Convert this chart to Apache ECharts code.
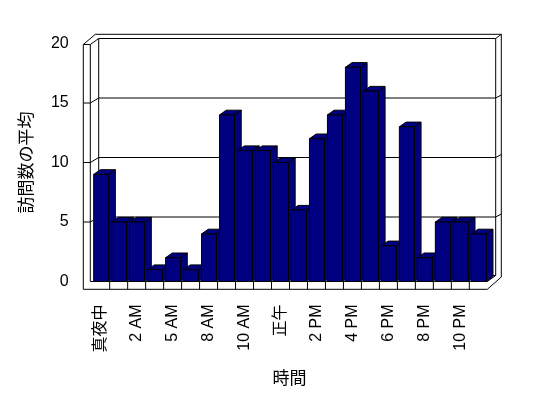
<!DOCTYPE html>
<html><head><meta charset="utf-8">
<script src="https://cdn.jsdelivr.net/npm/echarts@6/dist/echarts.min.js"></script>
<style>html,body{margin:0;padding:0;background:#fff}#c{width:548px;height:398px}</style>
</head><body><div id="c"></div>
<script>
const categories = ['真夜中','1 AM','2 AM','3 AM','5 AM','6 AM','8 AM','9 AM','10 AM','11 AM','正午','1 PM','2 PM','3 PM','4 PM','5 PM','6 PM','7 PM','8 PM','9 PM','10 PM','11 PM'];
const visits = [9,5,5,1,2,1,4,14,11,11,10,6,12,14,18,16,3,13,2,5,5,4];
const yTicks = [0,5,10,15,20];
const yTitle = '訪問数の平均';
const xTitle = '時間';

const FONT = "'Liberation Sans','Noto Sans CJK JP',sans-serif";
const BAR = '#000080';
const chart = echarts.init(document.getElementById('c'), null, {renderer:'canvas'});

function wallsRender(params, api){
  const N = categories.length;
  const bw = api.size([1,0])[0];
  const x0 = api.coord([0,0])[0] - bw/2;
  const x1 = api.coord([N-1,0])[0] + bw/2;
  const yb = api.coord([0,0])[1];
  const yt = api.coord([0,yTicks[yTicks.length-1]])[1];
  const st = {stroke:'#000', lineWidth:1, fill:null};
  const ch = [];
  ch.push({type:'polygon', shape:{points:[[x0-8.4,yt+1],[x0+3.6,yt-9.2],[x1+14,yt-9.2],[x1+14,yb-4.5],[x1,yb+7.8],[x0-8.4,yb+7.8]]}, style:{fill:'#fff',stroke:'#000',lineWidth:1}});
  ch.push({type:'rect', shape:{x:x0+7,y:yt-5,width:(x1+8.4)-(x0+7),height:(yb-6)-(yt-5)}, style:st});
  ch.push({type:'polyline', shape:{points:[[x0-8.4,yt+1],[x0-1.4,yt+1],[x0+7,yt-5]]}, style:st});
  ch.push({type:'line', shape:{x1:x0-1.4,y1:yt+1,x2:x0-1.4,y2:yb}, style:st});
  ch.push({type:'line', shape:{x1:x1+8.4,y1:yt-5,x2:x1+14,y2:yt-9.2}, style:st});
  ch.push({type:'line', shape:{x1:x0-1.4,y1:yb,x2:x1,y2:yb}, style:st});
  ch.push({type:'line', shape:{x1:x1,y1:yb,x2:x1+8.4,y2:yb-6}, style:st});
  for(let i=1;i<N;i++){
    const x = x0 + i*bw;
    ch.push({type:'line', shape:{x1:x,y1:yb,x2:x,y2:yb+7.8}, style:st});
  }
  yTicks.slice(1,-1).forEach(v=>{
    const y = api.coord([0,v])[1];
    ch.push({type:'polyline', shape:{points:[[x0-8.4,y],[x0-1.4,y],[x0+7,y-5],[x1+8.4,y-5],[x1+14,y-8]]}, style:st});
  });
  return {type:'group', children:ch};
}

function barRender(params, api){
  const i = api.value(0), v = api.value(1);
  const top = api.coord([i,v]);
  const bot = api.coord([i,0]);
  const bw = api.size([1,0])[0];
  const l = top[0] - bw/2 + bw*0.11;
  const r = l + bw*0.833;
  const dx = 6.7, dy = 4.7;
  const t = top[1], b = bot[1];
  const st = {fill:BAR, stroke:'#000', lineWidth:1};
  return {type:'group', children:[
    {type:'polygon', shape:{points:[[r,t],[r+dx,t-dy],[r+dx,b-dy],[r,b]]}, style:st},
    {type:'polygon', shape:{points:[[l,t],[r,t],[r+dx,t-dy],[l+dx,t-dy]]}, style:st},
    {type:'rect', shape:{x:l,y:t,width:r-l,height:b-t}, style:st}
  ]};
}

chart.setOption({
  animation:false,
  backgroundColor:'#fff',
  grid:{left:91.7, right:60.7, top:43.5, bottom:116.5},
  xAxis:{type:'category', data:categories, boundaryGap:true,
    axisLine:{show:false}, axisTick:{show:false}, splitLine:{show:false},
    axisLabel:{interval:1, rotate:90, margin:23, fontSize:16, color:'#000', fontFamily:FONT},
    name:xTitle, nameLocation:'middle', nameGap:89,
    nameTextStyle:{fontSize:17, color:'#000', fontFamily:FONT}},
  yAxis:{type:'value', min:yTicks[0], max:yTicks[yTicks.length-1], interval:5,
    axisLine:{show:false}, axisTick:{show:false}, splitLine:{show:false},
    axisLabel:{margin:23, fontSize:16, color:'#000', fontFamily:FONT},
    name:yTitle, nameLocation:'middle', nameGap:56, nameRotate:90,
    nameTextStyle:{fontSize:17, color:'#000', fontFamily:FONT}},
  series:[
    {type:'custom', z:1, data:[[0,0]], renderItem:wallsRender, silent:true, clip:false},
    {type:'custom', z:2, data:visits.map((v,i)=>[i,v]), renderItem:barRender, clip:false}
  ]
});
</script></body></html>
